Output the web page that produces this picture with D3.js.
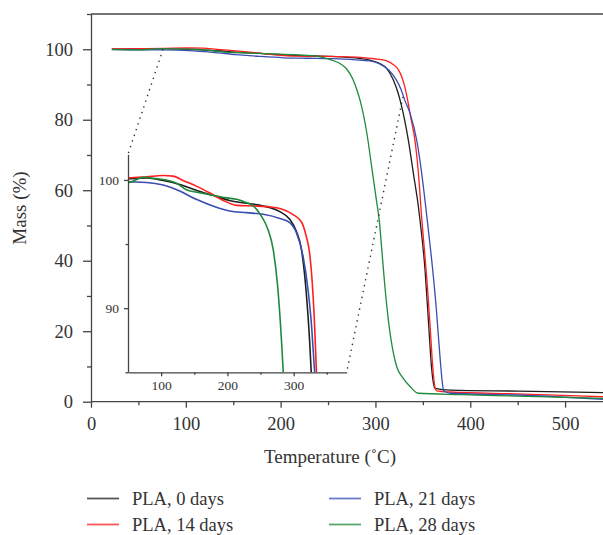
<!DOCTYPE html>
<html lang="en">
<head>
  <meta charset="UTF-8">
  <title>TGA curves</title>
  <script src="https://d3js.org/d3.v7.min.js"></script>
</head>
<body style="margin:0;background:#fff;">

  <div id="chart"></div>

  <style>
    text { font-family: "Liberation Serif", "DejaVu Serif", serif; fill: #333; }
    .axis path, .axis line { stroke: #444; stroke-width: 1.3; }
    .curve { fill: none; }
  </style>

  <script type="text/javascript">

  // temperature (C) / mass (%)
  var t0  = [22, 50, 78, 103, 128, 153, 178, 203, 229, 254, 279, 294, 304, 312, 319, 324, 327, 334.7, 340, 345.3, 347, 352.3, 355.8, 359.4, 361, 363, 379, 450, 540];
  var m0  = [100.05, 100.08, 100.15, 99.96, 99.65, 99.2, 98.8, 98.4, 98.18, 97.97, 97.53, 96.94, 96.0, 94.5, 91.2, 87.5, 84.5, 74.2, 64.8, 55.3, 51.5, 37.4, 23.2, 9, 5.5, 3.8, 3.3, 3.0, 2.55];

  var t14 = [22, 50, 78, 103, 118, 133, 153, 173, 194, 214, 239, 264, 284, 299, 312, 319, 324, 328, 331, 334, 337, 342, 345.3, 348.8, 352, 355, 358, 360.4, 362.5, 364.6, 379, 449, 540];
  var m14 = [100.1, 100.15, 100.25, 100.35, 100.3, 99.96, 99.52, 99.0, 98.4, 98.02, 97.97, 97.9, 97.7, 97.3, 96.7, 95.6, 94.3, 92.0, 89.3, 85.5, 81, 73.5, 65, 52, 42, 32, 20, 10, 4.5, 3.1, 2.75, 2.2, 1.4];

  var t21 = [22, 50, 78, 103, 128, 153, 178, 203, 229, 254, 279, 294, 304, 314, 322, 327, 331, 336.5, 343.5, 348.8, 354, 359, 364, 368, 370.5, 372, 379, 449, 540];
  var m21 = [99.9, 99.85, 99.8, 99.6, 99.13, 98.49, 97.97, 97.58, 97.45, 97.32, 97.0, 96.68, 95.9, 94.1, 91.3, 88.6, 85.5, 81.8, 74.2, 64.8, 53, 41, 27, 13, 5.5, 3.1, 2.4, 1.9, 0.7];

  var t28 = [22, 50, 73, 93, 108, 123, 138, 158, 178, 199, 214, 229, 239, 251, 261, 269, 276, 281, 284, 291, 296, 301, 304, 307, 310, 313.6, 319, 323, 328, 336.5, 345, 389, 449, 540];
  var m28 = [99.95, 99.8, 100.2, 100.1, 100.0, 99.75, 99.24, 99.0, 98.8, 98.6, 98.49, 98.23, 97.97, 97.2, 96.16, 94.6, 91.6, 88, 85.3, 76.1, 66.7, 57.2, 51.5, 42.1, 32.6, 23.2, 13.7, 9.5, 7.1, 4.3, 2.4, 2.0, 1.6, 0.95];

  var seriesNames = ["PLA, 0 days", "PLA, 14 days", "PLA, 21 days", "PLA, 28 days"];
  var colors = ["#1e1e1e", "#ff1f1f", "#3a4db0", "#1f8a3c"];

  var xTicks = [0, 100, 200, 300, 400, 500];
  var yTicks = [0, 20, 40, 60, 80, 100];
  var insetXTicks = [100, 200, 300];
  var insetYTicks = [90, 100];

  // zoom connectors: main-chart points joined to inset corners
  var zoomFrom = [[76, 100], [329, 86.5]];

  var w = 603, h = 535;

  var svg = d3.select('#chart').append('svg')
    .attr("width", w)
    .attr("height", h);

  var allT = [t0, t14, t21, t28];
  var allM = [m0, m14, m21, m28];
  var data = allT.map((ts, k) => ts.map((t, i) => ({ t: t, m: allM[k][i] })));

  var xScale = d3.scaleLinear().domain([0, 540]).range([91, 603]);
  var yScale = d3.scaleLinear().domain([0, 110]).range([401.7, 14]);

  var xi = d3.scaleLinear().domain([50, 380]).range([128, 346.7]);
  var yi = d3.scaleLinear().domain([85, 102]).range([372.3, 154.3]);

  // ---- main axes
  var xAxis = d3.axisBottom(xScale).tickValues(d3.range(0, 541, 50)).tickSizeOuter(0)
    .tickFormat(d => xTicks.indexOf(d) >= 0 ? d : "");
  var gx = svg.append("g").attr("class", "axis")
    .attr("transform", "translate(0," + yScale(0) + ")")
    .call(xAxis);
  gx.selectAll(".tick line").attr("y2", d => d % 100 === 0 ? 6 : 3.5);
  gx.selectAll(".tick text").attr("y", 15).style("font-size", "18.5px");
  gx.select(".domain").attr("d", "M" + xScale(0) + ",0H" + w);

  var yAxis = d3.axisLeft(yScale).tickValues(d3.range(0, 111, 10)).tickSizeOuter(0)
    .tickFormat(d => yTicks.indexOf(d) >= 0 ? d : "");
  var gy = svg.append("g").attr("class", "axis")
    .attr("transform", "translate(" + xScale(0) + ",0)")
    .call(yAxis);
  gy.selectAll(".tick line").attr("x2", d => d % 20 === 0 ? -8 : -4);
  gy.selectAll(".tick text").attr("x", -18).style("font-size", "18.5px");

  // top frame line
  svg.append("line")
    .attr("x1", xScale(0)).attr("x2", w)
    .attr("y1", yScale(110)).attr("y2", yScale(110))
    .attr("stroke", "#444").attr("stroke-width", 1.3);

  // ---- main curves
  var line = d3.line()
    .x(d => xScale(d.t))
    .y(d => yScale(d.m))
    .curve(d3.curveMonotoneX);

  svg.append("g").selectAll("path")
    .data(data)
    .enter()
    .append("path")
    .attr("class", "curve")
    .attr("d", line)
    .attr("stroke", (d, i) => colors[i])
    .attr("stroke-width", 1.3);

  // ---- connectors
  var corners = [[xi.range()[0], yi.range()[1]], [xi.range()[1], yi.range()[0]]];
  svg.append("g").selectAll("line")
    .data(zoomFrom)
    .enter()
    .append("line")
    .attr("x1", d => xScale(d[0]))
    .attr("y1", d => yScale(d[1]))
    .attr("x2", (d, i) => corners[i][0])
    .attr("y2", (d, i) => corners[i][1])
    .attr("stroke", "#333")
    .attr("stroke-width", 1.4)
    .attr("stroke-dasharray", "1.4,4.6");

  // ---- inset
  svg.append("clipPath").attr("id", "insetClip")
    .append("rect")
    .attr("x", xi.range()[0]).attr("y", yi.range()[1])
    .attr("width", xi.range()[1] - xi.range()[0])
    .attr("height", yi.range()[0] - yi.range()[1]);

  var insetLine = d3.line()
    .x(d => xi(d.t))
    .y(d => yi(d.m))
    .curve(d3.curveMonotoneX);

  svg.append("g").attr("clip-path", "url(#insetClip)")
    .selectAll("path")
    .data(data)
    .enter()
    .append("path")
    .attr("class", "curve")
    .attr("d", insetLine)
    .attr("stroke", (d, i) => colors[i])
    .attr("stroke-width", 1.6);

  var ix = svg.append("g").attr("class", "axis")
    .attr("transform", "translate(0," + yi.range()[0] + ")")
    .call(d3.axisBottom(xi).tickValues([100, 150, 200, 250, 300, 350]).tickSizeOuter(0)
      .tickFormat(d => insetXTicks.indexOf(d) >= 0 ? d : ""));
  ix.selectAll(".tick line").attr("y2", d => d % 100 === 0 ? 4 : 2.5);
  ix.selectAll(".tick text").attr("y", 8).style("font-size", "13.5px");

  var iy = svg.append("g").attr("class", "axis")
    .attr("transform", "translate(" + xi.range()[0] + ",0)")
    .call(d3.axisLeft(yi).tickValues([85, 90, 95, 100]).tickSizeOuter(0)
      .tickFormat(d => insetYTicks.indexOf(d) >= 0 ? d : ""));
  iy.selectAll(".tick line").attr("x2", d => d % 10 === 0 ? -4 : -2.5);
  iy.selectAll(".tick text").attr("x", -9).style("font-size", "13.5px");

  // ---- axis titles
  svg.append("text")
    .attr("x", 330).attr("y", 463)
    .attr("text-anchor", "middle")
    .style("font-size", "19px")
    .text("Temperature (\u02DAC)");

  svg.append("text")
    .attr("transform", "translate(26,208) rotate(-90)")
    .attr("text-anchor", "middle")
    .style("font-size", "19px")
    .text("Mass (%)");

  // ---- legend
  var legend = svg.append("g").selectAll("g")
    .data(seriesNames)
    .enter()
    .append("g")
    .attr("transform", (d, i) => "translate(" + (i < 2 ? 87 : 329) + "," + (i % 2 === 0 ? 498.5 : 524.5) + ")");

  legend.append("line")
    .attr("x1", 0).attr("x2", 32)
    .attr("stroke", (d, i) => colors[i])
    .attr("stroke-opacity", 0.75)
    .attr("stroke-width", 1.8);

  legend.append("text")
    .attr("x", 45).attr("y", 6)
    .style("font-size", "18.5px")
    .text(d => d);

    </script>
</body>
</html>
